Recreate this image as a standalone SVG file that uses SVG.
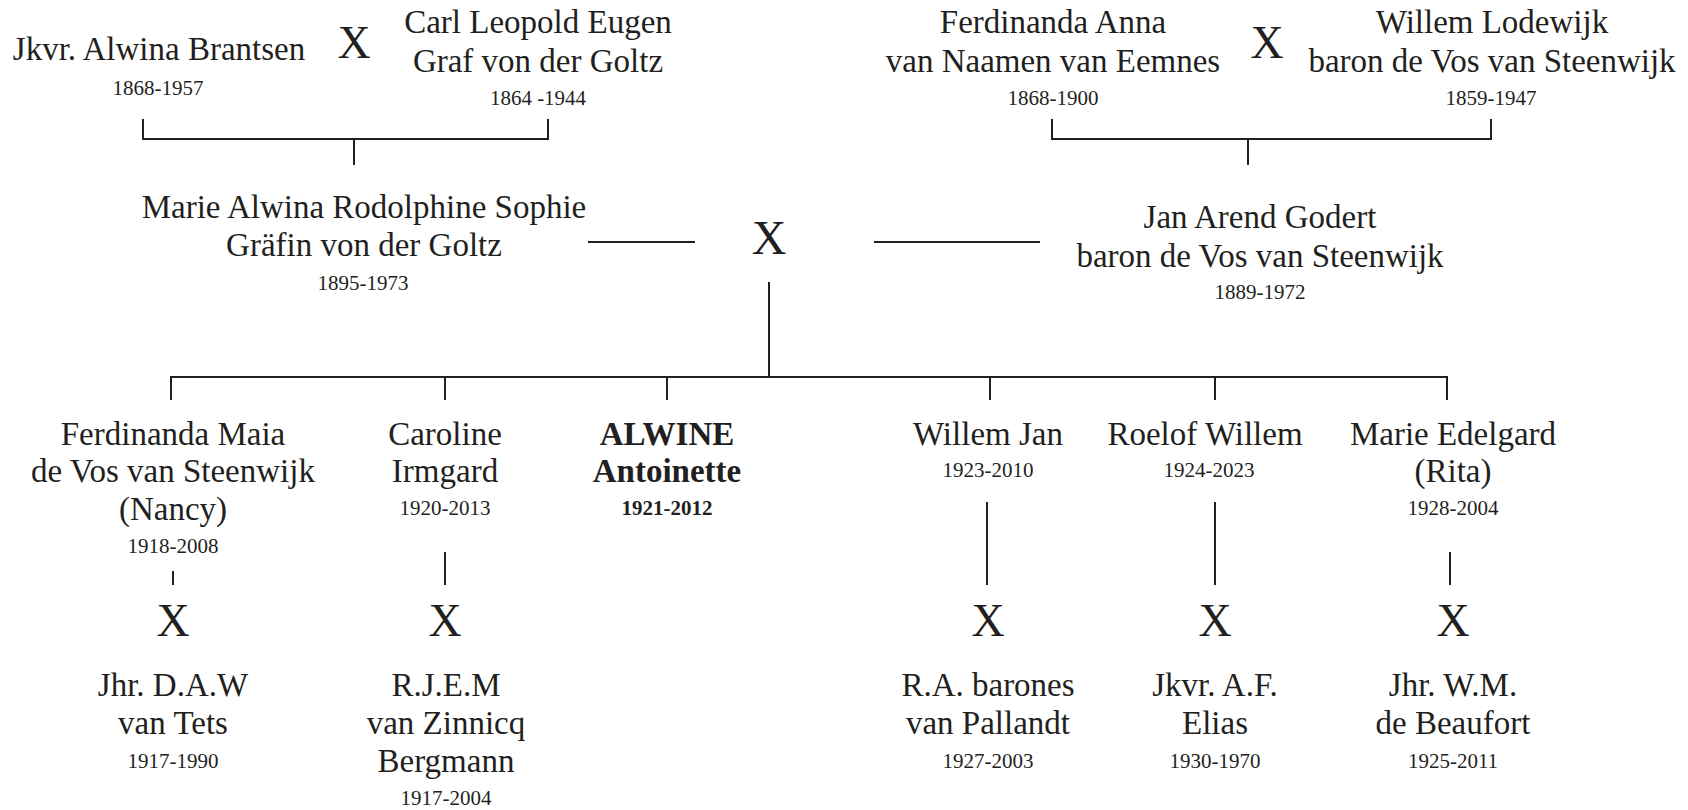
<svg xmlns="http://www.w3.org/2000/svg" width="1688" height="810" viewBox="0 0 1688 810">
<style>
text{font-family:"Liberation Serif","Times New Roman",serif;fill:#231f20;text-anchor:middle}
.n{font-size:33px}
.d{font-size:21px}
.x{font-size:46px}
.b{font-weight:bold}
.c line,.c path{stroke:#231f20;stroke-width:2;fill:none}
</style>
<rect width="1688" height="810" fill="#fff"/>
<g class="c" id="connectors">
<path d="M143 119V139H548V119"/>
<line x1="354" y1="139" x2="354" y2="165"/>
<path d="M1052 119V139H1491V119"/>
<line x1="1248" y1="139" x2="1248" y2="165"/>
<line x1="588" y1="242" x2="695" y2="242"/>
<line x1="874" y1="242" x2="1040" y2="242"/>
<line x1="769" y1="282" x2="769" y2="378"/>
<path d="M171 400V377H1447V400"/>
<line x1="445" y1="377" x2="445" y2="400"/>
<line x1="667" y1="377" x2="667" y2="400"/>
<line x1="990" y1="377" x2="990" y2="400"/>
<line x1="1215" y1="377" x2="1215" y2="400"/>
<line x1="173" y1="571" x2="173" y2="585"/>
<line x1="445" y1="552" x2="445" y2="585"/>
<line x1="987" y1="502" x2="987" y2="585"/>
<line x1="1215" y1="502" x2="1215" y2="585"/>
<line x1="1450" y1="552" x2="1450" y2="585"/>
</g>
<g id="alwina-brantsen"><text class="n" x="159" y="60">Jkvr. Alwina Brantsen</text><text class="d" x="158" y="95">1868-1957</text></g>
<g id="marriage-1"><text class="x" x="354" y="58">X</text></g>
<g id="carl-goltz"><text class="n" x="538" y="33">Carl Leopold Eugen</text><text class="n" x="538" y="72">Graf von der Goltz</text><text class="d" x="538" y="105">1864 -1944</text></g>
<g id="ferdinanda-anna"><text class="n" x="1053" y="33">Ferdinanda Anna</text><text class="n" x="1053" y="72">van Naamen van Eemnes</text><text class="d" x="1053" y="105">1868-1900</text></g>
<g id="marriage-2"><text class="x" x="1267" y="58">X</text></g>
<g id="willem-lodewijk"><text class="n" x="1492" y="33">Willem Lodewijk</text><text class="n" x="1492" y="72">baron de Vos van Steenwijk</text><text class="d" x="1491" y="105">1859-1947</text></g>
<g id="marie-alwina"><text class="n" x="364" y="218">Marie Alwina Rodolphine Sophie</text><text class="n" x="364" y="256">Gräfin von der Goltz</text><text class="d" x="363" y="290">1895-1973</text></g>
<g id="marriage-3"><text class="x" style="font-size:48px" x="769" y="254">X</text></g>
<g id="jan-arend"><text class="n" x="1260" y="228">Jan Arend Godert</text><text class="n" x="1260" y="267">baron de Vos van Steenwijk</text><text class="d" x="1260" y="299">1889-1972</text></g>
<g id="ferdinanda-maia"><text class="n" x="173" y="445">Ferdinanda Maia</text><text class="n" x="173" y="482">de Vos van Steenwijk</text><text class="n" x="173" y="520">(Nancy)</text><text class="d" x="173" y="553">1918-2008</text></g>
<g id="caroline"><text class="n" x="445" y="445">Caroline</text><text class="n" x="445" y="482">Irmgard</text><text class="d" x="445" y="515">1920-2013</text></g>
<g id="alwine"><text class="n b" x="667" y="445">ALWINE</text><text class="n b" x="667" y="482">Antoinette</text><text class="d b" x="667" y="515">1921-2012</text></g>
<g id="willem-jan"><text class="n" x="988" y="445">Willem Jan</text><text class="d" x="988" y="477">1923-2010</text></g>
<g id="roelof-willem"><text class="n" x="1205" y="445">Roelof Willem</text><text class="d" x="1209" y="477">1924-2023</text></g>
<g id="marie-edelgard"><text class="n" x="1453" y="445">Marie Edelgard</text><text class="n" x="1453" y="482">(Rita)</text><text class="d" x="1453" y="515">1928-2004</text></g>
<g id="marriages-children">
<text class="x" x="173" y="636">X</text>
<text class="x" x="445" y="636">X</text>
<text class="x" x="988" y="636">X</text>
<text class="x" x="1215" y="636">X</text>
<text class="x" x="1453" y="636">X</text>
</g>
<g id="van-tets"><text class="n" x="173" y="696">Jhr. D.A.W</text><text class="n" x="173" y="734">van Tets</text><text class="d" x="173" y="768">1917-1990</text></g>
<g id="van-zinnicq"><text class="n" x="446" y="696">R.J.E.M</text><text class="n" x="446" y="734">van Zinnicq</text><text class="n" x="446" y="772">Bergmann</text><text class="d" x="446" y="805">1917-2004</text></g>
<g id="van-pallandt"><text class="n" x="988" y="696">R.A. barones</text><text class="n" x="988" y="734">van Pallandt</text><text class="d" x="988" y="768">1927-2003</text></g>
<g id="elias"><text class="n" x="1215" y="696">Jkvr. A.F.</text><text class="n" x="1215" y="734">Elias</text><text class="d" x="1215" y="768">1930-1970</text></g>
<g id="de-beaufort"><text class="n" x="1453" y="696">Jhr. W.M.</text><text class="n" x="1453" y="734">de Beaufort</text><text class="d" x="1453" y="768">1925-2011</text></g>
</svg>
